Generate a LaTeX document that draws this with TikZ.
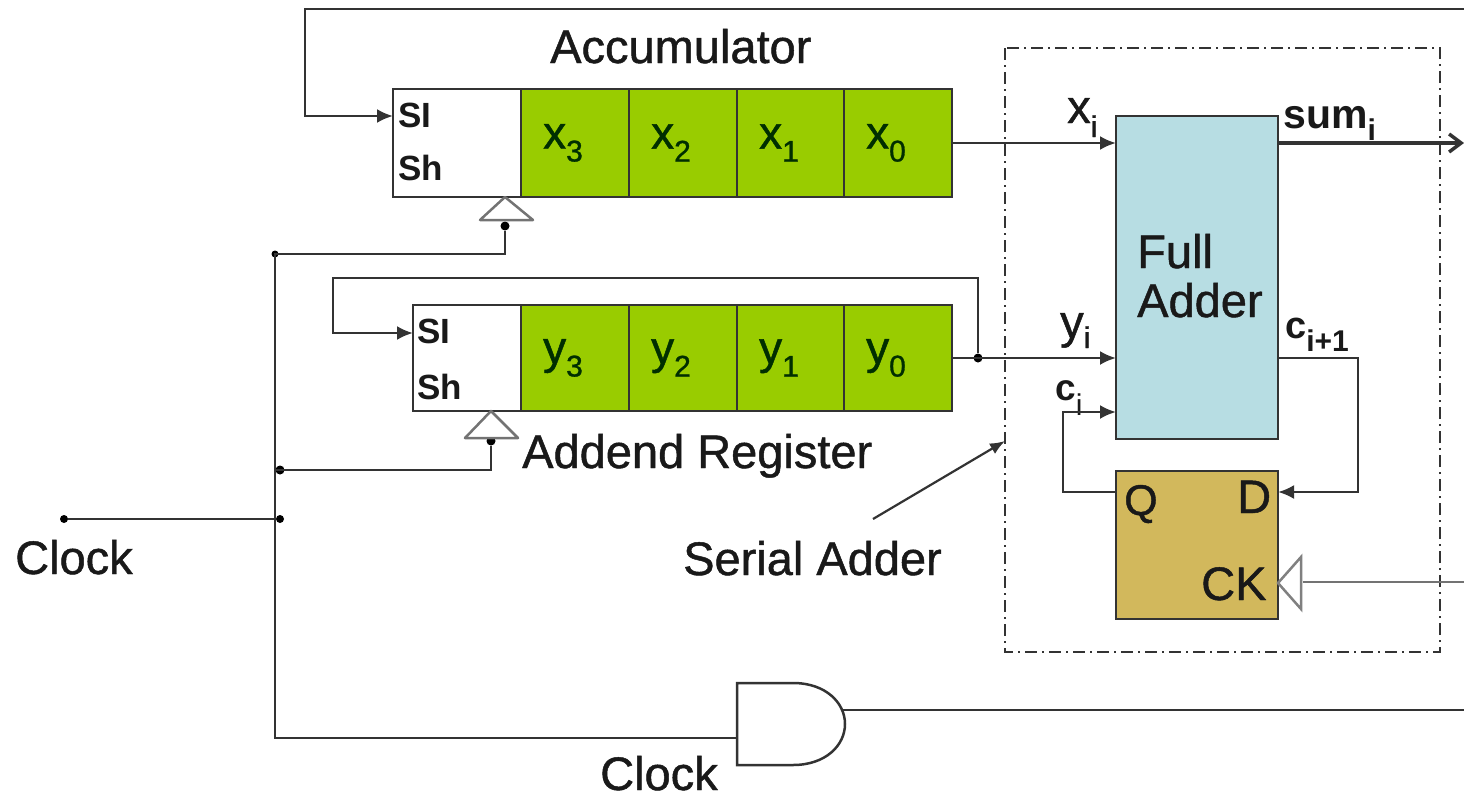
\documentclass[tikz,border=0pt]{standalone}
\usepackage{fontspec}
\setmainfont{Liberation Sans}
\newfontfamily\softface[FakeBold=1]{Liberation Sans}
\usetikzlibrary{arrows.meta}
\definecolor{regGreen}{HTML}{99CC00}
\definecolor{addBlue}{HTML}{B7DDE3}
\definecolor{ffGold}{HTML}{D2B85C}
\definecolor{inkGrey}{HTML}{333333}
\newcommand{\lowsub}[4]{#1\raisebox{-#4pt}{\fontsize{#3}{#3}\selectfont #2}}
\tikzset{
	wire/.style={line width=2.5pt,draw=inkGrey},
	pin/.style={wire,-{Latex[length=16pt,width=14pt]}},
	box/.style={draw=inkGrey,line width=2.5pt,inner sep=0,outer sep=0,rectangle},
	cell/.style={box,fill=regGreen,text=black!70!green!60!black,minimum width=108,minimum height=108,
		font=\softface\fontsize{46}{50}\selectfont},
	junct/.style={circle,fill=black,inner sep=0,minimum size=9,draw=none},
	label/.style={inner sep=0,anchor=base west,text=black!90,font=\softface\fontsize{47}{50}\selectfont},
	tag/.style={inner sep=0,anchor=base west,text=black!90,font=\fontsize{35}{36}\selectfont\bfseries},
}
\begin{document}
\begin{tikzpicture}[x=1pt,y=-1pt]
	\useasboundingbox (0,0) rectangle (1464,798);
	% serial adder frame
	\draw[line width=2.2pt,draw=inkGrey,dash pattern=on 12pt off 5pt on 2pt off 5pt] (1005,48) rectangle (1440,652);
	% registers
	\node[box,minimum width=128,minimum height=108] (acc) at (457,143) {};
	\node[box,minimum width=108,minimum height=106] (add) at (467,358) {};
	\foreach \i/\xpos in {3/575,2/683,1/791,0/898} {
		\node[cell] (x\i) at (\xpos,143) {\raisebox{3pt}{\lowsub{x}{\i}{30}{13}}\kern24pt};
		\node[cell,minimum height=106] (y\i) at (\xpos,358) {\lowsub{y}{\i}{30}{13}\kern24pt};
	}
	\node[tag] (aSI) at (398,127) {SI};
	\node[tag] (aSh) at (398,180) {Sh};
	\node[tag] (bSI) at (417,343) {SI};
	\node[tag] (bSh) at (417,399) {Sh};
	\node[label] (accName) at (550,63) {Accumulator};
	\node[label] (addName) at (522,468) {Addend Register};
	% full adder, flip flop
	\node[box,fill=addBlue,minimum width=162,minimum height=323] (fa) at (1197,277.5) {};
	\node[box,fill=ffGold,minimum width=162,minimum height=148] (ff) at (1197,545) {};
	\node[label] (faOne) at (1137,268) {Full};
	\node[label] (faTwo) at (1137,317) {Adder};
	\node[label,font=\softface\fontsize{43}{50}\selectfont] (ffQ) at (1124,515) {Q};
	\node[label] (ffD) at (1237,513) {D};
	\node[label] (ffCK) at (1201,600) {CK};
	\node[label] (xiName) at (1067,123) {\lowsub{x}{i}{30}{14}};
	\node[label] (yiName) at (1060,338) {\lowsub{y}{i}{30}{10}};
	\node[tag,font=\fontsize{41}{44}\selectfont\bfseries] (sumName) at (1283,128) {\lowsub{sum}{i}{30}{12}};
	\node[tag,font=\fontsize{37}{44}\selectfont\bfseries] (ciName) at (1055,400) {c\raisebox{-15pt}{\fontsize{30}{30}\mdseries\selectfont i}};
	\node[tag,font=\fontsize{38}{44}\selectfont\bfseries] (cjName) at (1285,338) {\lowsub{c}{i+1}{30}{13}};
	\node[label] (serialName) at (683,575) {Serial Adder};
	\node[label] (clkA) at (15,574) {Clock};
	\node[label] (clkB) at (600,790) {Clock};
	% free ends and corners
	\coordinate (topEnd) at (1464,9);
	\coordinate (sumEnd) at (1464,143);
	\coordinate (ckEnd) at (1464,582);
	\coordinate (andEnd) at (1464,710);
	\coordinate (ckTip) at (1278,583);
	\coordinate (ckBase) at (1303,582);
	\coordinate (accTip) at (505,197);
	\coordinate (addTip) at (491,411);
	\coordinate (andIn) at (737,738);
	\coordinate (andOut) at (843,710);
	\coordinate (railTop) at (275,254);
	\coordinate (railBot) at (275,738);
	\coordinate (serialTail) at (873,519);
	\coordinate (serialHead) at (1005,441);
	\node[junct,minimum size=8] (clkPin) at (64,519) {};
	\node[junct,minimum size=8] (clkJoin) at (280,519) {};
	\node[junct,minimum size=7] (accJoin) at (275,254) {};
	\node[junct] (addJoin) at (280,470) {};
	\node[junct] (accDot) at (505,226) {};
	\node[junct] (addDot) at (491,441) {};
	\node[junct] (yJoin) at (978,358) {};
	% clock triangles
	\draw[line width=2.5pt,draw=black!55,fill=white,line join=round] (accTip) -- (480,220) -- (533,220) -- cycle;
	\draw[line width=2.5pt,draw=black!55,fill=white,line join=round] (addTip) -- (465,438) -- (518,438) -- cycle;
	\draw[line width=2.5pt,draw=black!50,fill=white] (ckTip) -- (1301,557) -- (1301,609) -- cycle;
	% and gate
	\draw[wire,fill=white] (737,683) -- (793,683) .. controls (826,683) and (845,703) .. (845,724) .. controls (845,745) and (826,765) .. (793,765) -- (737,765) -- cycle;
	% connectors
	\draw[pin] (topEnd) -- (305,9) -- (305,116) -- (acc.west |- 0,116);
	\draw[pin] (yJoin) -- (978,278) -- (333,278) -- (333,333) -- (add.west |- 0,333);
	\draw[pin] (x0.east) -- (fa.west |- x0.east);
	\draw[pin] (y0.east) -- (fa.west |- y0.east);
	\draw[wire,line width=3.5pt,-{Straight Barb[length=12pt,width=18pt]}] (fa.east |- sumEnd) -- (sumEnd);
	\draw[pin] (fa.east |- y0.east) -- (1358,358) -- (1358,492) -- (ff.east |- 0,492);
	\draw[pin] (ff.west |- 0,492) -- (1063,492) -- (1063,412) -- (fa.west |- 0,412);
	\draw[wire,draw=black!55] (ckBase) -- (ckEnd);
	\draw[wire] (accDot) -- (accDot |- railTop) -- (railTop) -- (railBot) -- (andIn);
	\draw[wire] (addDot) -- (addDot |- addJoin) -- (addJoin.center -| railTop);
	\draw[wire] (clkPin) -- (clkJoin);
	\draw[wire] (andOut) -- (andEnd);
	\draw[line width=2.2pt,draw=inkGrey,-{Latex[length=15pt,width=12pt]}] (serialTail) -- (serialHead);
\end{tikzpicture}
\end{document}
